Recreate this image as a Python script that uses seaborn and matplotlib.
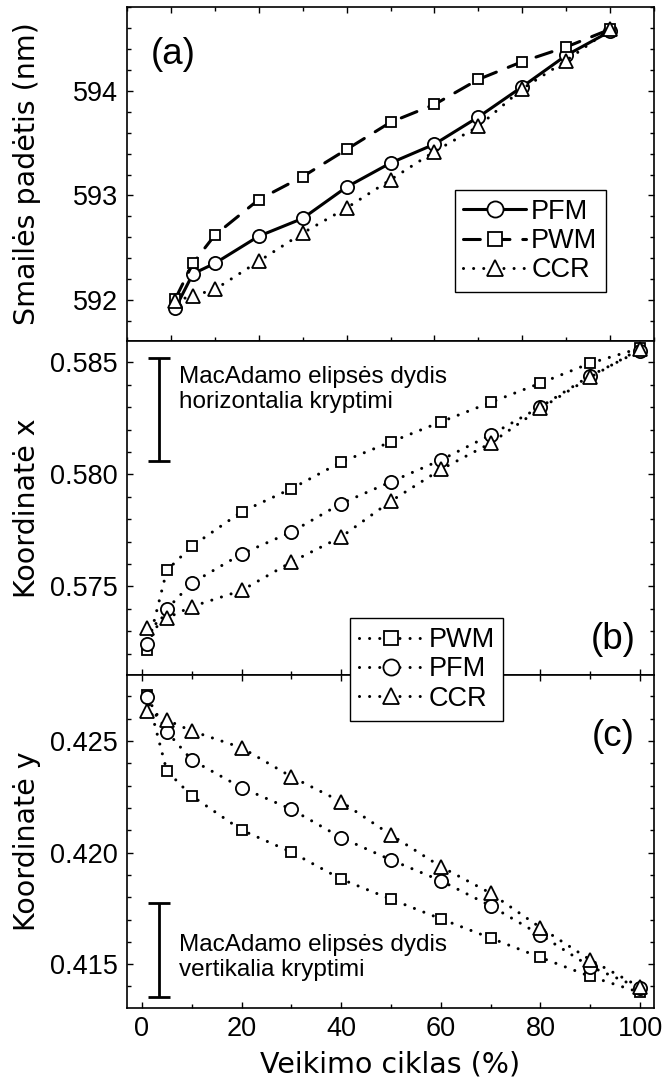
import numpy as np
import pandas as pd
import matplotlib
matplotlib.use("Agg")
import matplotlib.pyplot as plt
import seaborn as sns
from matplotlib.ticker import MultipleLocator, FormatStrFormatter, NullFormatter

# ---------------- data ----------------
duty = [1, 5, 10, 20, 30, 40, 50, 60, 70, 80, 90, 100]

# (a) peak position, nm
peak_pfm = [591.92, 592.25, 592.35, 592.61, 592.78, 593.08, 593.31, 593.49, 593.75, 594.04, 594.34, 594.57]
peak_pwm = [592.01, 592.35, 592.62, 592.96, 593.18, 593.44, 593.70, 593.87, 594.11, 594.28, 594.42, 594.59]
peak_ccr = [591.99, 592.04, 592.10, 592.37, 592.64, 592.88, 593.15, 593.42, 593.66, 594.02, 594.29, 594.59]

# (b) chromaticity x
cx_pwm = [0.57217, 0.57572, 0.57679, 0.57833, 0.57936, 0.58055, 0.58145, 0.58234, 0.58321, 0.58407, 0.58496, 0.58563]
cx_pfm = [0.57242, 0.57399, 0.57515, 0.57645, 0.57743, 0.57870, 0.57967, 0.58064, 0.58176, 0.58301, 0.58440, 0.58552]
cx_ccr = [0.57314, 0.57359, 0.57410, 0.57482, 0.57609, 0.57721, 0.57881, 0.58022, 0.58139, 0.58294, 0.58433, 0.58560]

# (c) chromaticity y
cy_pwm = [0.42706, 0.42366, 0.42254, 0.42101, 0.42002, 0.41881, 0.41791, 0.41703, 0.41617, 0.41530, 0.41445, 0.41373]
cy_pfm = [0.42698, 0.42542, 0.42415, 0.42291, 0.42194, 0.42067, 0.41967, 0.41874, 0.41761, 0.41631, 0.41489, 0.41393]
cy_ccr = [0.42634, 0.42594, 0.42545, 0.42470, 0.42340, 0.42228, 0.42079, 0.41937, 0.41818, 0.41664, 0.41519, 0.41397]

# MacAdam ellipse size bars and their captions
macadam_x = [0.58061, 0.58517]
macadam_y = [0.41352, 0.41776]
macadam_text_x = "MacAdamo elipsės dydis\nhorizontalia kryptimi"
macadam_text_y = "MacAdamo elipsės dydis\nvertikalia kryptimi"

# ---------------- style ----------------
sns.set_style("ticks")
plt.rcParams["font.family"] = ["Liberation Sans", "DejaVu Sans"]
for k in ("text.color", "axes.labelcolor", "xtick.color", "ytick.color", "axes.edgecolor"):
    plt.rcParams[k] = "black"
plt.rcParams["axes.linewidth"] = 1.2

W, H = 662, 1077
fig = plt.figure(figsize=(W / 100, H / 100), dpi=100)
L, R = 127 / W, 654 / W


def add_ax(top_px, bot_px):
    return fig.add_axes([L, 1 - bot_px / H, R - L, (bot_px - top_px) / H])


ax_a = add_ax(7.3, 340.7)
ax_b = add_ax(341.0, 675.0)
ax_c = add_ax(675.0, 1008.3)

TICK_FS = 19.5
LAB_FONT = dict(fontsize=20.5, family=["DejaVu Sans"])
dotted = (0, (0.01, 3.3))
dashed = (0, (5.5, 4.2))
mk = dict(o=dict(marker="o", markersize=9.5),
          s=dict(marker="s", markersize=7.9),
          t=dict(marker="^", markersize=10.0))
common = dict(color="black", markerfacecolor="white", markeredgecolor="black",
              markeredgewidth=1.3, dash_capstyle="round")


def series(ax, x, y, ls, lw, m, label):
    df = pd.DataFrame({"x": x, "y": y})
    sns.lineplot(data=df, x="x", y="y", ax=ax, linestyle=ls, linewidth=lw,
                 label=label, legend=False, **mk[m], **common)
    return ax.lines[-1]


leg_kw = dict(loc="upper left", bbox_transform=fig.transFigure, borderaxespad=0,
              fontsize=19.5, frameon=True, fancybox=False, framealpha=1,
              edgecolor="black", handletextpad=0.2, labelspacing=0.12,
              borderpad=0.33, markerscale=1.22)

# ---- (a)
h_pfm_a = series(ax_a, duty, peak_pfm, "-", 2.2, "o", "PFM")
h_pwm_a = series(ax_a, duty, peak_pwm, dashed, 2.2, "s", "PWM")
h_ccr_a = series(ax_a, duty, peak_ccr, dotted, 2.2, "t", "CCR")
ax_a.set_xlim(-10, 110)
ax_a.set_ylim(591.61, 594.80)
ax_a.set_ylabel("Smailės padėtis (nm)", **LAB_FONT)
ax_a.set_xlabel("")
ax_a.xaxis.set_major_locator(MultipleLocator(20))
ax_a.xaxis.set_minor_locator(MultipleLocator(10))
ax_a.xaxis.set_major_formatter(NullFormatter())
ax_a.yaxis.set_major_locator(MultipleLocator(1))
ax_a.yaxis.set_minor_locator(MultipleLocator(0.2))
ax_a.yaxis.set_major_formatter(FormatStrFormatter("%d"))
ax_a.tick_params(axis="both", which="both", direction="in", top=True, right=True,
                 labelbottom=False)
ax_a.text(0.046, 0.857, "(a)", transform=ax_a.transAxes, fontsize=26.5,
          ha="left", va="center")
leg_a = ax_a.legend(handles=[h_pfm_a, h_pwm_a, h_ccr_a], labels=["PFM", "PWM", "CCR"],
                    bbox_to_anchor=(454.5 / W, 1 - 190 / H), handlelength=2.3, **leg_kw)
leg_a.get_frame().set_linewidth(1.0)

# ---- (b)
h_pwm_b = series(ax_b, duty, cx_pwm, dotted, 2.2, "s", "PWM")
h_pfm_b = series(ax_b, duty, cx_pfm, dotted, 2.2, "o", "PFM")
h_ccr_b = series(ax_b, duty, cx_ccr, dotted, 2.2, "t", "CCR")
ax_b.errorbar([3.5], [np.mean(macadam_x)], yerr=[[np.ptp(macadam_x) / 2]],
              color="black", elinewidth=2.0, capsize=8, capthick=2.0, fmt="none")
ax_b.text(7.5, 0.58379, macadam_text_x, fontsize=17.5,
          ha="left", va="center", linespacing=1.2)
ax_b.set_xlim(-3, 102.8)
ax_b.set_ylim(0.57105, 0.58595)
ax_b.set_ylabel("Koordinatė x", **LAB_FONT)
ax_b.set_xlabel("")
ax_b.xaxis.set_major_locator(MultipleLocator(20))
ax_b.xaxis.set_minor_locator(MultipleLocator(10))
ax_b.yaxis.set_major_locator(MultipleLocator(0.005))
ax_b.yaxis.set_minor_locator(MultipleLocator(0.001))
ax_b.yaxis.set_major_formatter(FormatStrFormatter("%.3f"))
ax_b.tick_params(axis="both", which="both", direction="in", top=False, right=True,
                 labelbottom=False)
ax_b.text(0.922, 0.105, "(b)", transform=ax_b.transAxes, fontsize=26.5,
          ha="center", va="center")

# ---- (c)
h_pwm_c = series(ax_c, duty, cy_pwm, dotted, 2.2, "s", "PWM")
h_pfm_c = series(ax_c, duty, cy_pfm, dotted, 2.2, "o", "PFM")
h_ccr_c = series(ax_c, duty, cy_ccr, dotted, 2.2, "t", "CCR")
ax_c.errorbar([3.5], [np.mean(macadam_y)], yerr=[[np.ptp(macadam_y) / 2]],
              color="black", elinewidth=2.0, capsize=8, capthick=2.0, fmt="none")
ax_c.text(7.5, 0.41531, macadam_text_y, fontsize=17.5,
          ha="left", va="center", linespacing=1.2)
ax_c.set_xlim(-3, 102.8)
ax_c.set_ylim(0.41302, 0.42796)
ax_c.set_ylabel("Koordinatė y", **LAB_FONT)
ax_c.set_xlabel("Veikimo ciklas (%)", **LAB_FONT)
ax_c.xaxis.set_major_locator(MultipleLocator(20))
ax_c.xaxis.set_minor_locator(MultipleLocator(10))
ax_c.yaxis.set_major_locator(MultipleLocator(0.005))
ax_c.yaxis.set_minor_locator(MultipleLocator(0.001))
ax_c.yaxis.set_major_formatter(FormatStrFormatter("%.3f"))
ax_c.tick_params(axis="both", which="both", direction="in", top=True, right=True)
ax_c.text(0.922, 0.816, "(c)", transform=ax_c.transAxes, fontsize=26.5,
          ha="center", va="center")

for ax in (ax_a, ax_b, ax_c):
    ax.tick_params(which="major", length=4.5, width=1.0, labelsize=TICK_FS)
    ax.tick_params(which="minor", length=3.0, width=1.0)
    ax.tick_params(axis="y", pad=6.5)
    ax.tick_params(axis="x", pad=5.5)
    ax.yaxis.set_label_coords(-0.163, 0.5)
    for sp in ax.spines.values():
        sp.set_linewidth(1.2)
        sp.set_visible(True)
ax_c.xaxis.labelpad = 6

leg_bc = fig.legend(handles=[h_pwm_c, h_pfm_c, h_ccr_c], labels=["PWM", "PFM", "CCR"],
                    bbox_to_anchor=(350.3 / W, 1 - 618.3 / H), handlelength=2.35, **leg_kw)
leg_bc.get_frame().set_linewidth(1.0)

fig.savefig("out.png", dpi=100)
